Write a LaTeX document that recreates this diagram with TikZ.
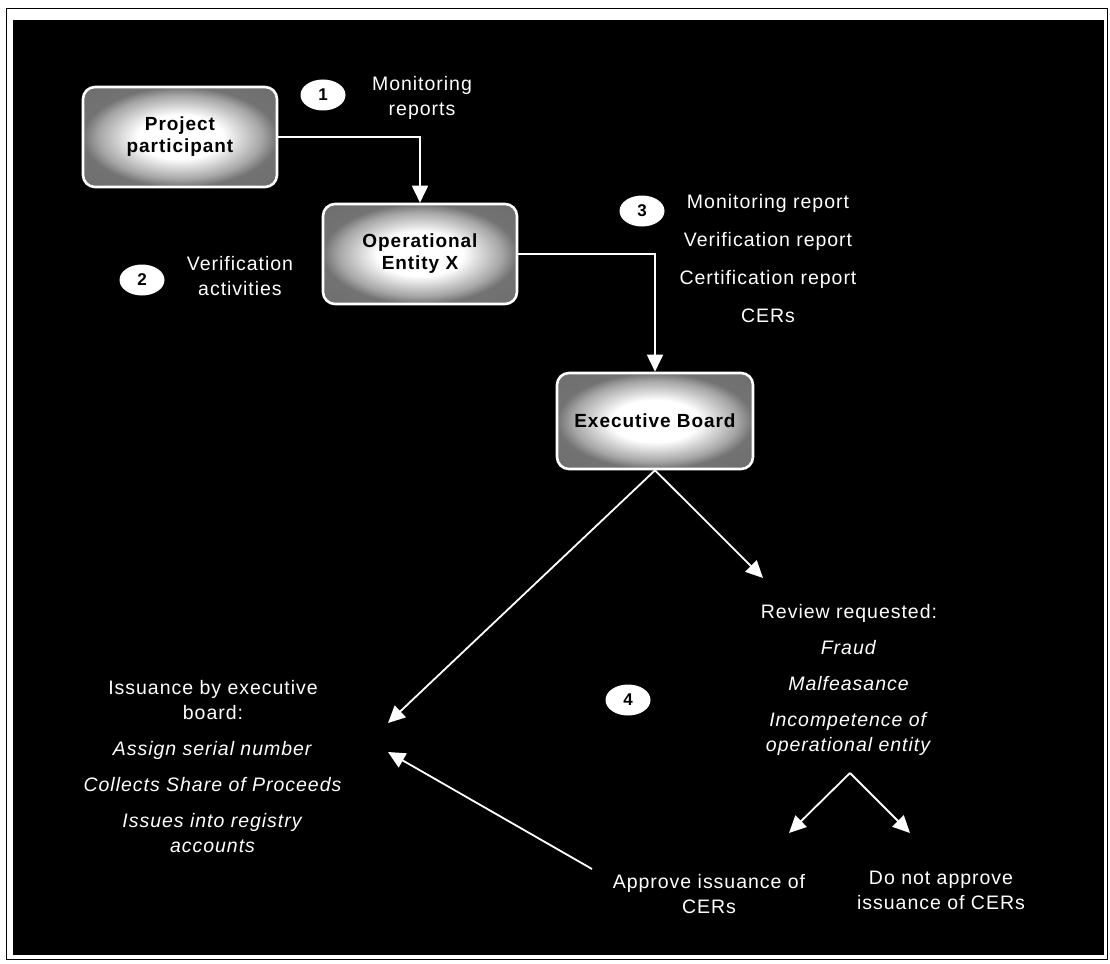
\documentclass[tikz,border=0pt]{standalone}
\usepackage{fontspec}
\setmainfont{Liberation Sans}[LetterSpace=5]
\usetikzlibrary{arrows.meta,shapes.geometric}
% soft radial fill for the actor boxes: wide white centre, grey rim
\pgfdeclareradialshading{softbox}{\pgfpoint{0bp}{0bp}}{%
  color(0bp)=(white); color(11bp)=(white); color(21bp)=(black!35);
  color(25bp)=(black!55); color(50bp)=(black!60)}
\begin{document}
\begin{tikzpicture}[x=1pt,y=-1pt,
  stage/.style={draw=white, line width=2.6pt, rounded corners=12pt,
    minimum width=194pt, minimum height=100pt,
    shade, shading=softbox,
    font=\fontsize{19}{22}\selectfont\bfseries, text=black, align=center},
  badge/.style={ellipse, fill=white, minimum width=45pt, minimum height=31pt,
    inner sep=0pt, font=\fontsize{17}{17}\selectfont\bfseries, text=black},
  note/.style={text=white, align=center, inner sep=0pt, anchor=north,
    font=\fontsize{19.5}{25}\selectfont},
  flow/.style={draw=white, line width=1.8pt,
    -{Triangle[length=17pt,width=16pt]}},
]
% page and dark panel
\fill[white] (0,0) rectangle (1110,963);
\draw[black, line width=1pt] (6,9) rectangle (1107,959);
\fill[black] (13,20) rectangle (1104,955);
\useasboundingbox (0,0) rectangle (1110,963);

% main actors
\node[stage] (pp) at (180,137) {Project\\participant};
\node[stage] (oe) at (420,254) {Operational\\Entity X};
\node[stage, minimum width=196pt, minimum height=96pt] (eb) at (655,421) {Executive Board};

% numbered steps
\node[badge] (b1) at (323,95) {1};
\node[badge] (b2) at (142,280) {2};
\node[badge] (b3) at (642,211) {3};
\node[badge] (b4) at (628,700) {4};

% step texts
\node[note] (mon) at (422,76) {Monitoring\\reports};
\node[note] (ver) at (240,256) {Verification\\activities};
\node[note] (docs) at (768,194) {Monitoring report\\[13pt]Verification report\\[13pt]Certification report\\[13pt]CERs};
\node[note] (rev) at (849,604) {Review requested:\\[11pt]\textit{Fraud}\\[11pt]\textit{Malfeasance}\\[11pt]\textit{Incompetence of}\\\textit{operational entity}};
\node[note] (iss) at (213,680) {Issuance by executive\\board:\\[11pt]\textit{Assign serial number}\\[11pt]\textit{Collects Share of Proceeds}\\[11pt]\textit{Issues into registry}\\\textit{accounts}};
\node[note] (ap) at (709,874) {Approve issuance of\\CERs};
\node[note] (na) at (941,871) {Do not approve\\issuance of CERs};

% connector ends near the text groups
\coordinate (issA) at (388,723);
\coordinate (issB) at (388,752);
\coordinate (revIn) at (763,578);
\coordinate (revOut) at (850,773);
\coordinate (apIn) at (789,833);
\coordinate (naIn) at (910,833);
\coordinate (apOut) at (592,869);

% connectors
\draw[flow] (pp.east) -| (oe.north);
\draw[flow] (oe.east) -| (eb.north);
\draw[flow] (eb.south) -- (issA);
\draw[flow] (eb.south) -- (revIn);
\draw[flow] (revOut) -- (apIn);
\draw[flow] (revOut) -- (naIn);
\draw[flow] (apOut) -- (issB);
\end{tikzpicture}
\end{document}
